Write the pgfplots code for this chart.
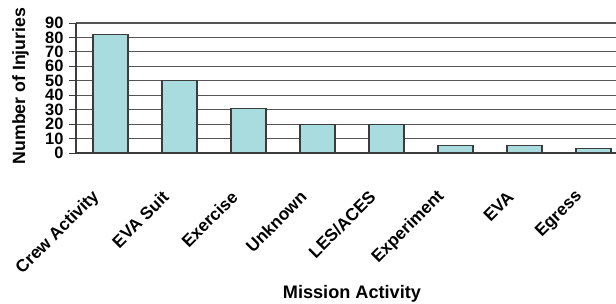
\documentclass[border=0pt]{standalone}
\usepackage{fontspec}
\setmainfont{Liberation Sans}
\usepackage{pgfplots}
\pgfplotsset{compat=1.18}
\definecolor{barfill}{RGB}{168,220,222}
\definecolor{gridc}{RGB}{85,85,85}
\definecolor{edgec}{RGB}{60,60,60}
\begin{document}
\begin{tikzpicture}
\begin{axis}[
  scale only axis,
  width=540bp, height=130bp,
  xmin=-0.5, xmax=7.326,
  ymin=0, ymax=90,
  ytick={0,10,...,90},
  axis x line*=bottom, axis y line*=left,
  axis line style={-, draw=edgec, line width=1.1pt},
  ymajorgrids,
  major grid style={draw=gridc, line width=1.1pt},
  /pgf/number format/assume math mode=true,
  yticklabel style={font=\bfseries\fontsize{16.5}{16.5}\selectfont, xshift=-2bp},
  ytick style={draw=edgec, line width=1pt},
  tick align=outside,
  major tick length=7bp,
  xtick={-0.2,0.8,1.8,2.8,3.8,4.8,5.8,6.8},
  xticklabels={Crew Activity,EVA Suit,Exercise,Unknown,LES/ACES,Experiment,EVA,Egress},
  xtick style={draw=none},
  xticklabel style={font=\bfseries\fontsize{17.3}{17.3}\selectfont, yshift=-34bp, rotate=45, anchor=east, inner sep=0pt},
  extra x ticks={-0.5,0.5,1.5,2.5,3.5,4.5,5.5,6.5},
  extra x tick labels={},
  extra x tick style={grid=none, major tick length=6bp, tick style={draw=edgec, line width=1pt}},
  ylabel={Number of Injuries},
  ylabel style={font=\bfseries\fontsize{17.8}{17.8}\selectfont, at={(axis description cs:-0.0944,0.515)}, anchor=base},
  xlabel={Mission Activity},
  xlabel style={font=\bfseries\fontsize{18.2}{18.2}\selectfont, at={(axis description cs:0.511,-1.123)}, anchor=base},
  ybar, bar width=35bp,
  clip=false,
]
\addplot[fill=barfill, draw=edgec, line width=1.1pt] coordinates {
  (0,82) (1,50) (2,31) (3,20) (4,19.5) (5,5.5) (6,5) (7,3)
};
\end{axis}
\pgfresetboundingbox
\path[use as bounding box] (-76bp,-151bp) rectangle (540bp,153bp);
\end{tikzpicture}
\end{document}
